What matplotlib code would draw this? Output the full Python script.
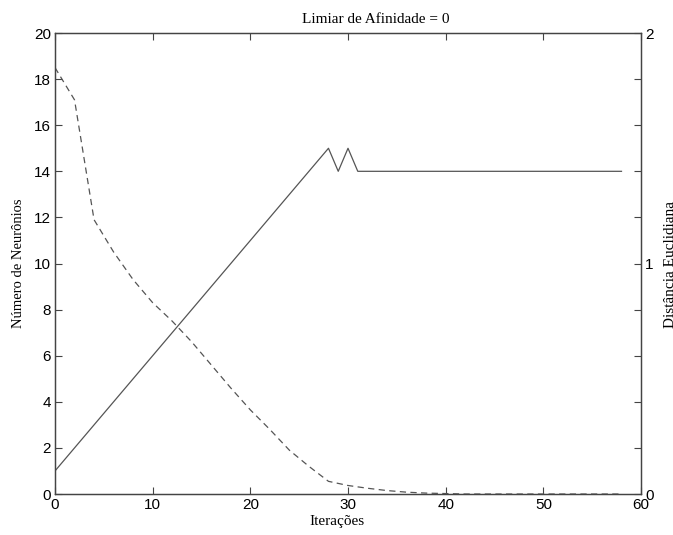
import matplotlib
matplotlib.use("Agg")
import matplotlib.pyplot as plt
from matplotlib.ticker import FixedLocator, FuncFormatter

title = "Limiar de Afinidade = 0"
xlabel = "Iterações"
ylabel_left = "Número de Neurônios"
ylabel_right = "Distância Euclidiana"

# number of neurons (left axis)
neur_x = [0, 2, 4, 6, 8, 10, 12, 14, 16, 18, 20, 22, 24, 26, 28, 29, 30, 31, 58]
neur_y = [1, 2, 3, 4, 5, 6, 7, 8, 9, 10, 11, 12, 13, 14, 15, 14, 15, 14, 14]

# euclidean distance (right axis)
dist_x = [0, 2, 4, 6, 8, 10, 12, 14, 16, 18, 20, 22, 24, 26, 28, 30, 32, 34, 36,
          38, 40, 42, 44, 46, 48, 50, 52, 54, 56, 58]
dist_y = [1.85, 1.71, 1.19, 1.05, 0.93, 0.83, 0.75, 0.66, 0.56, 0.46, 0.365, 0.28,
          0.19, 0.12, 0.055, 0.037, 0.025, 0.015, 0.008, 0.004, 0.002, 0, 0, 0,
          0, 0, 0, 0, 0, 0]

serif = "Liberation Serif"
sans = "Liberation Sans"
grey = "#555555"

fig = plt.figure(figsize=(6.73, 5.35), dpi=100)
ax = fig.add_axes([0.0817, 0.0766, 0.8708, 0.8617])
ax2 = ax.twinx()

ax.plot(neur_x, neur_y, color=grey, lw=0.9)
ax2.plot(dist_x, dist_y, color=grey, lw=0.9, linestyle=(0, (5, 3.5)))

ax.set_xlim(0, 60)
ax.set_ylim(0, 20)
ax2.set_ylim(0, 2)
ax.set_xticks(range(0, 61, 10))
ax.set_yticks(range(0, 21, 2))
ax2.yaxis.set_major_locator(FixedLocator([i * 0.2 for i in range(11)]))
ax2.yaxis.set_major_formatter(FuncFormatter(
    lambda v, p: "%d" % round(v) if abs(v - round(v)) < 1e-6 else ""))

for a in (ax, ax2):
    for s in a.spines.values():
        s.set_color("#444444")
        s.set_linewidth(0.9)

ax.tick_params(direction="in", length=5, width=0.8, color="#444444",
               labelsize=11, pad=3, top=True)
ax2.tick_params(direction="in", length=5, width=0.8, color="#444444",
                labelsize=11, pad=3)
for lab in ax.get_xticklabels() + ax.get_yticklabels() + ax2.get_yticklabels():
    lab.set_fontfamily(sans)

ax.set_title(title, fontfamily=serif, fontsize=11, pad=7, x=0.548)
ax.set_xlabel(xlabel, fontfamily=serif, fontsize=11, labelpad=3)
ax.xaxis.set_label_coords(0.481, -0.045, transform=ax.transAxes)
ax.xaxis.label.set_va("top")
ax.set_ylabel(ylabel_left, fontfamily=serif, fontsize=10.5, labelpad=6)
# the reference shows this label partly cut off at the right edge
fig.text(0.9865, 0.5065, ylabel_right, fontfamily=serif, fontsize=11,
         rotation=90, ha="left", va="center")

fig.savefig("out.png", dpi=100)
